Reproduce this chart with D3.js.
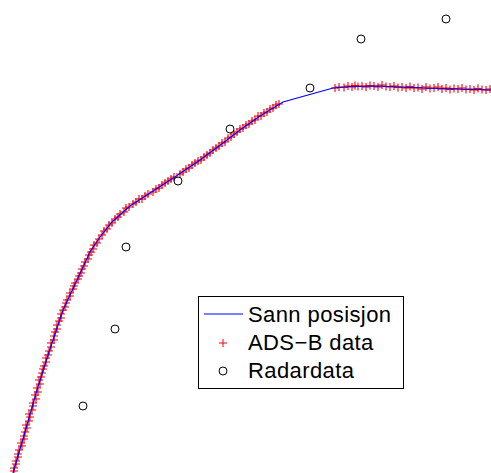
<!DOCTYPE html>
<html>
<head>
<meta charset="utf-8">
<script src="https://cdn.jsdelivr.net/npm/d3@7"></script>
<style>
  html, body { margin: 0; padding: 0; background: #fff; }
  svg { display: block; }
</style>
</head>
<body>
<div id="drawing"></div>
<script>
// positions in km (east, north)
var truePath = [
    [1.3, 0], [2.5, 4.1], [3.7, 8.3], [5.0, 12.4], [6.3, 16.3], [7.7, 19.3],
    [9.0, 22.1], [10.0, 23.6], [11.2, 25.1], [13.0, 26.7], [15.0, 28.0],
    [17.7, 29.75], [20.0, 31.3], [22.3, 33.0], [24.0, 34.3], [26.0, 35.7],
    [28.3, 37.1], [33.3, 38.5], [35.0, 38.65], [38.0, 38.7], [41.0, 38.55],
    [44.0, 38.45], [49.1, 38.3]
];
var adsbData = [
    [1.4, 0.2], [1.4, 0.5], [1.6, 0.9], [1.6, 1.2], [1.8, 1.6], [1.8, 1.9],
    [1.9, 2.3], [2.2, 2.7], [2.1, 3.0], [2.4, 3.4], [2.4, 3.7], [2.5, 4.1],
    [2.7, 4.5], [2.6, 4.8], [2.9, 5.2], [3.0, 5.6], [2.9, 5.9], [3.2, 6.3],
    [3.3, 6.7], [3.3, 7.0], [3.6, 7.4], [3.5, 7.8], [3.8, 8.1],
    [3.7, 8.5], [4.0, 8.9], [3.9, 9.3], [4.1, 9.6], [4.2, 10.0], [4.3, 10.4],
    [4.4, 10.7], [4.6, 11.1], [4.6, 11.5], [4.8, 11.8], [4.9, 12.2],
    [5.1, 12.6], [5.1, 13.0], [5.4, 13.3], [5.4, 13.7], [5.5, 14.1], [5.7, 14.4],
    [5.7, 14.8], [5.9, 15.2], [6.1, 15.5], [6.1, 15.9], [6.3, 16.3],
    [6.5, 16.6], [6.6, 17.0], [6.7, 17.3], [7.0, 17.7], [7.0, 18.0], [7.3, 18.4],
    [7.4, 18.7], [7.5, 19.0], [7.8, 19.4],
    [7.9, 19.7], [8.1, 20.0], [8.2, 20.4], [8.4, 20.7], [8.5, 21.1], [8.8, 21.4],
    [8.9, 21.8], [9.1, 22.1],
    [9.3, 22.4], [9.4, 22.8], [9.7, 23.0], [9.9, 23.4],
    [10.2, 23.8], [10.4, 24.2], [10.7, 24.4], [10.9, 24.8], [11.2, 25.0],
    [11.5, 25.4], [11.8, 25.6], [12.0, 25.9], [12.4, 26.1], [12.6, 26.5], [12.9, 26.6],
    [13.3, 26.9], [13.6, 27.1], [13.9, 27.4], [14.2, 27.4], [14.5, 27.7], [14.8, 27.9],
    [15.3, 28.1], [15.6, 28.4], [15.9, 28.5], [16.2, 28.8], [16.5, 29.0], [16.8, 29.2],
    [17.1, 29.4], [17.4, 29.6],
    [18.0, 29.9], [18.3, 30.1], [18.6, 30.4], [18.9, 30.5], [19.2, 30.8], [19.5, 31.0],
    [19.8, 31.2],
    [20.1, 31.3], [20.4, 31.6], [20.7, 31.8], [21.0, 32.0], [21.3, 32.3], [21.6, 32.5],
    [21.9, 32.7], [22.2, 33.0],
    [22.5, 33.1], [22.8, 33.5], [23.1, 33.6], [23.4, 33.9], [23.7, 34.1],
    [24.0, 34.4], [24.3, 34.5], [24.6, 34.8], [24.9, 34.9], [25.2, 35.2], [25.5, 35.3],
    [25.8, 35.7],
    [26.1, 35.7], [26.4, 36.0], [26.7, 36.1], [27.0, 36.4], [27.3, 36.5], [27.6, 36.8],
    [27.9, 36.9],
    [33.5, 38.5], [33.9, 38.6], [34.4, 38.55], [34.8, 38.7], [35.2, 38.6], [35.5, 38.75],
    [35.8, 38.65], [36.2, 38.7], [36.6, 38.6], [37.0, 38.75], [37.4, 38.7], [37.8, 38.6],
    [38.2, 38.8], [38.6, 38.65], [39.0, 38.6], [39.4, 38.7], [39.8, 38.55], [40.2, 38.6],
    [40.6, 38.5], [41.0, 38.65], [41.4, 38.5], [41.8, 38.55], [42.2, 38.4], [42.6, 38.6],
    [43.0, 38.45], [43.4, 38.5], [43.8, 38.6], [44.2, 38.4], [44.6, 38.5], [45.0, 38.35],
    [45.4, 38.45], [45.8, 38.4], [46.2, 38.5], [46.6, 38.35], [47.0, 38.4], [47.4, 38.3],
    [47.8, 38.45], [48.2, 38.35], [48.6, 38.3], [49.0, 38.4]
];
var radarData = [
    [8.3, 6.7], [11.5, 14.4], [12.6, 22.6], [17.8, 29.2],
    [23.0, 34.4], [31.0, 38.5], [36.1, 43.4], [44.6, 45.4]
];
var legendLabels = ["Sann posisjon", "ADS\u2212B data", "Radardata"];

var plot;
(function (plot) {
    var W = 491, H = 473;
    var svg, x, y;

    function plus(sel, s) {
        sel.attr("d", "M" + (-s) + ",0H" + s + "M0," + (-s) + "V" + s);
    }

    function render() {
        x = d3.scaleLinear().domain([0, 49.1]).range([0, W]);
        y = d3.scaleLinear().domain([0, 47.3]).range([H, 0]);

        // ADS-B markers
        svg.append("g")
            .selectAll("path")
            .data(adsbData)
            .enter().append("path")
            .attr("transform", function (d) { return "translate(" + x(d[0]) + "," + y(d[1]) + ")"; })
            .call(plus, 4)
            .attr("fill", "none")
            .attr("stroke", "#ff0000")
            .attr("stroke-width", 1.1);

        // true path
        var line = d3.line().x(function (d) { return x(d[0]); }).y(function (d) { return y(d[1]); });
        svg.append("path")
            .datum(truePath)
            .attr("d", line)
            .attr("fill", "none")
            .attr("stroke", "#0000ff")
            .attr("stroke-width", 1.2);

        // radar
        svg.append("g")
            .selectAll("circle")
            .data(radarData)
            .enter().append("circle")
            .attr("cx", function (d) { return x(d[0]); })
            .attr("cy", function (d) { return y(d[1]); })
            .attr("r", 4)
            .attr("fill", "none")
            .attr("stroke", "#000")
            .attr("stroke-width", 1);

        // legend
        var lg = svg.append("g").attr("transform", "translate(198,296)");
        lg.append("rect")
            .attr("x", 0.5).attr("y", 0.5)
            .attr("width", 205).attr("height", 92)
            .attr("fill", "#fff").attr("stroke", "#000").attr("stroke-width", 1);
        lg.append("line")
            .attr("x1", 6).attr("x2", 45).attr("y1", 18).attr("y2", 18)
            .attr("stroke", "#0000ff").attr("stroke-width", 1.2);
        lg.append("path")
            .attr("transform", "translate(25,47)")
            .call(plus, 4)
            .attr("stroke", "#ff0000").attr("stroke-width", 1);
        lg.append("circle")
            .attr("cx", 25).attr("cy", 75).attr("r", 4)
            .attr("fill", "none").attr("stroke", "#000");
        lg.selectAll("text")
            .data(legendLabels)
            .enter().append("text")
            .attr("x", 50)
            .attr("y", function (d, i) { return 26 + i * 28; })
            .attr("font-family", "Liberation Sans, Arial, sans-serif")
            .attr("font-size", 22)
            .attr("letter-spacing", 0.4)
            .text(function (d) { return d; });
    }

    function main() {
        svg = d3.select("#drawing").append("svg")
            .attr("width", W)
            .attr("height", H);
        render();
    }
    plot.main = main;
})(plot || (plot = {}));
plot.main();
</script>
</body>
</html>
